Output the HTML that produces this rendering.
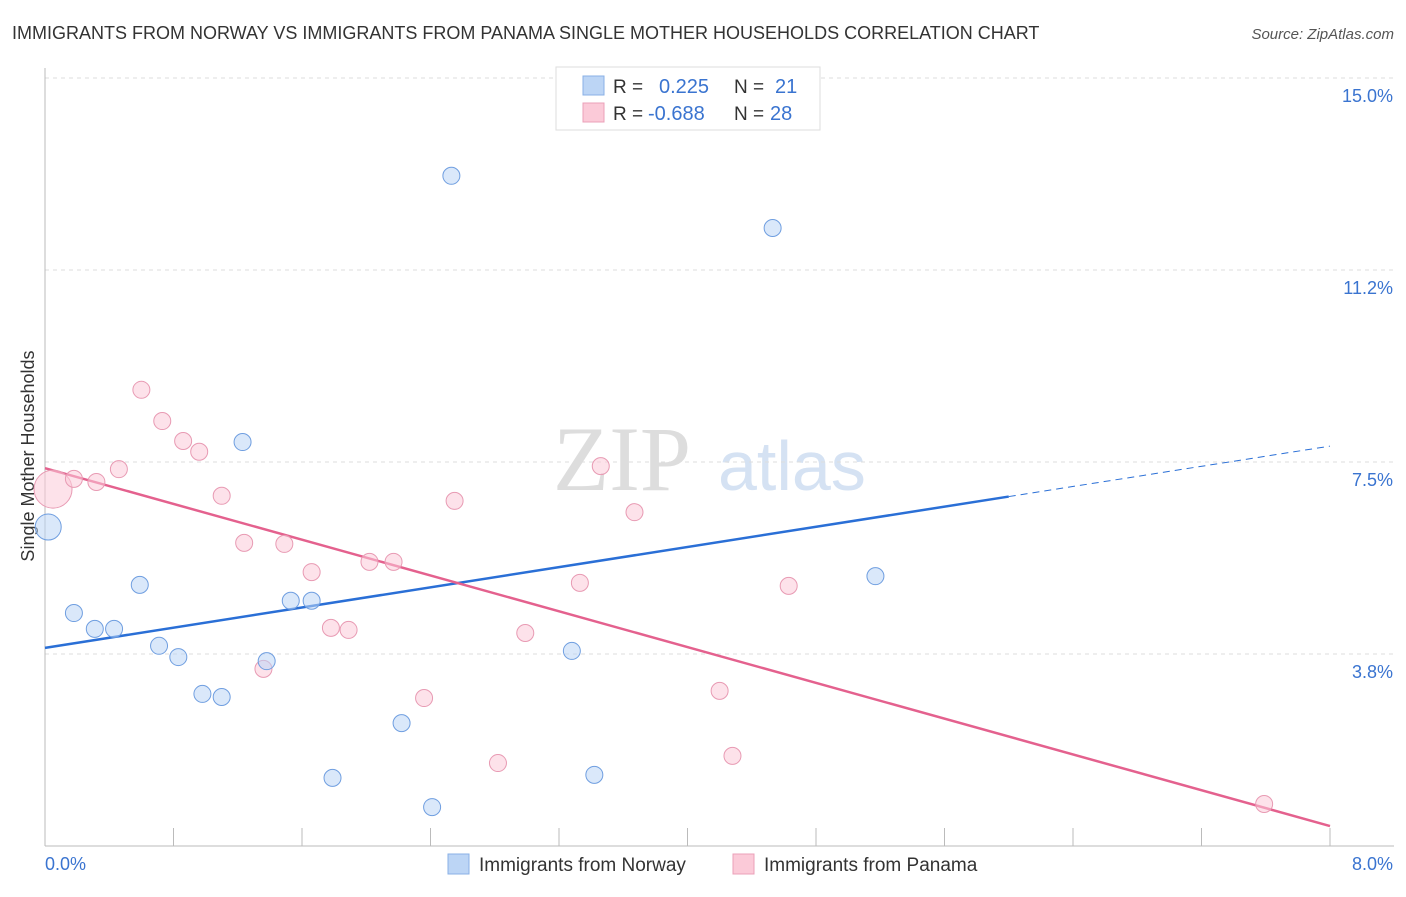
<!DOCTYPE html>
<html><head><meta charset="utf-8"><style>
body{margin:0;background:#fff;font-family:"Liberation Sans",sans-serif;}
svg text{font-family:"Liberation Sans",sans-serif;}
</style></head><body>
<svg id="c" width="1406" height="892" xmlns="http://www.w3.org/2000/svg">
<text x="12" y="39" font-size="18" fill="#333">IMMIGRANTS FROM NORWAY VS IMMIGRANTS FROM PANAMA SINGLE MOTHER HOUSEHOLDS CORRELATION CHART</text>
<text x="1394" y="39" font-size="15" fill="#555" font-style="italic" text-anchor="end">Source: ZipAtlas.com</text>
<text x="34" y="456" font-size="18" fill="#333" text-anchor="middle" transform="rotate(-90 34 456)">Single Mother Households</text>
<text x="553" y="490" font-size="92" fill="#ddd" font-family="Liberation Serif" style="font-family:'Liberation Serif',serif">ZIP</text>
<text x="718" y="490" font-size="70" fill="#d5e2f3">atlas</text>
<g id="grid"></g><g id="axes"></g><g id="lines"></g><g id="pts"></g>
<g>
<rect x="556" y="67" width="264" height="63" fill="#fff" stroke="#ddd"/>
<rect x="583" y="76" width="21" height="19" fill="#bcd5f5" stroke="#8ab0e6"/>
<text x="613" y="93" font-size="19" fill="#333">R =</text><text x="659" y="93" font-size="20" fill="#3a74d0">0.225</text>
<text x="734" y="93" font-size="19" fill="#333">N =</text><text x="775" y="93" font-size="20" fill="#3a74d0">21</text>
<rect x="583" y="103" width="21" height="19" fill="#fbcad8" stroke="#eba0b8"/>
<text x="613" y="120" font-size="19" fill="#333">R =</text><text x="648" y="120" font-size="20" fill="#3a74d0">-0.688</text>
<text x="734" y="120" font-size="19" fill="#333">N =</text><text x="770" y="120" font-size="20" fill="#3a74d0">28</text>
</g>
<g>
<rect x="448" y="854" width="21" height="20" fill="#bcd5f5" stroke="#8ab0e6"/>
<text x="479" y="871" font-size="19" fill="#333">Immigrants from Norway</text>
<rect x="733" y="854" width="21" height="20" fill="#fbcad8" stroke="#eba0b8"/>
<text x="764" y="871" font-size="19" fill="#333">Immigrants from Panama</text>
</g>
</svg>
<script>
const yTicks=[3.75,7.5,11.25,15];
const yTickLabels=["3.8%","7.5%","11.2%","15.0%"];
const xTickLabels=["0.0%","8.0%"];
const norwayX=[0.02,0.18,0.31,0.43,0.59,0.71,0.83,0.98,1.10,1.23,1.38,1.53,1.66,1.79,2.22,2.41,2.53,3.28,3.42,4.53,5.17];
const norwayY=[6.23,4.55,4.24,4.24,5.10,3.91,3.69,2.97,2.91,7.89,3.61,4.79,4.79,1.33,2.40,0.76,13.09,3.81,1.39,12.07,5.27];
const panamaX=[0.05,0.18,0.32,0.46,0.60,0.73,0.86,0.96,1.10,1.24,1.49,1.66,1.78,1.89,1.36,2.02,2.17,2.36,2.55,2.82,2.99,3.33,3.46,3.67,4.20,4.28,4.63,7.59];
const panamaY=[6.97,7.17,7.11,7.36,8.91,8.30,7.91,7.70,6.84,5.92,5.90,5.35,4.26,4.22,3.46,5.55,5.55,2.89,6.74,1.62,4.16,5.14,7.42,6.52,3.03,1.76,5.08,0.82];
const norwayTrend=[3.87,7.81];
const panamaTrend=[7.38,0.39];
const X0=45,X1=1330,Y0=846,PX=51.2;
const xs=v=>X0+v*(X1-X0)/8, ys=v=>Y0-v*PX;
const NS="http://www.w3.org/2000/svg";
function mk(t,a,p){const e=document.createElementNS(NS,t);for(const k in a)e.setAttribute(k,a[k]);p.appendChild(e);return e;}
const grid=document.getElementById('grid'),axes=document.getElementById('axes'),lines=document.getElementById('lines'),pts=document.getElementById('pts');
yTicks.forEach((t,i)=>{
 const l=mk('line',{x1:X0,x2:1394,y1:ys(t),y2:ys(t),stroke:'#ddd','stroke-dasharray':'4,4'},grid);
 
 
 const tx=mk('text',{x:1393,y:ys(t)+24,'font-size':18,fill:'#3a74d0','text-anchor':'end'},axes);
 tx.textContent=yTickLabels[i];
 
 
});
const ya=mk('line',{x1:X0,x2:X0,y1:68,y2:846,stroke:'#bbb'},axes);


const xa=mk('line',{x1:X0,x2:1394,y1:846,y2:846,stroke:'#bbb'},axes);


for(let i=1;i<=10;i++){const x=X0+i*(X1-X0)/10;const t=mk('line',{x1:x,x2:x,y1:828,y2:846,stroke:'#bbb'},axes);
 
 }
const xl0=mk('text',{x:45,y:870,'font-size':18,fill:'#3a74d0'},axes);xl0.textContent=xTickLabels[0];


const xl1=mk('text',{x:1393,y:870,'font-size':18,fill:'#3a74d0','text-anchor':'end'},axes);xl1.textContent=xTickLabels[1];


function pt(x,y,r,f,s){const c=mk('circle',{cx:xs(x),cy:ys(y),r:r,fill:f,stroke:s,'stroke-width':1,'fill-opacity':0.55},pts);return c;}
panamaX.forEach((x,i)=>{const c=pt(x,panamaY[i],i==0?19:8.5,'#fbcad8','#e89ab3');
 
 });
norwayX.forEach((x,i)=>{const c=pt(x,norwayY[i],i==0?13:8.5,'#bcd5f5','#6f9ee0');
 
 });
const nb=v=>norwayTrend[0]+(norwayTrend[1]-norwayTrend[0])*v/8;
const xm=6.0;
const l1=mk('line',{x1:xs(0),y1:ys(nb(0)),x2:xs(xm),y2:ys(nb(xm)),stroke:'#2a6fd6','stroke-width':2.5},lines);


const l2=mk('line',{x1:xs(xm),y1:ys(nb(xm)),x2:xs(8),y2:ys(nb(8)),stroke:'#2a6fd6','stroke-width':1,'stroke-dasharray':'7,5'},lines);


const l3=mk('line',{x1:xs(0),y1:ys(panamaTrend[0]),x2:xs(8),y2:ys(panamaTrend[1]),stroke:'#e4618e','stroke-width':2.5},lines);


</script>
</body></html>
